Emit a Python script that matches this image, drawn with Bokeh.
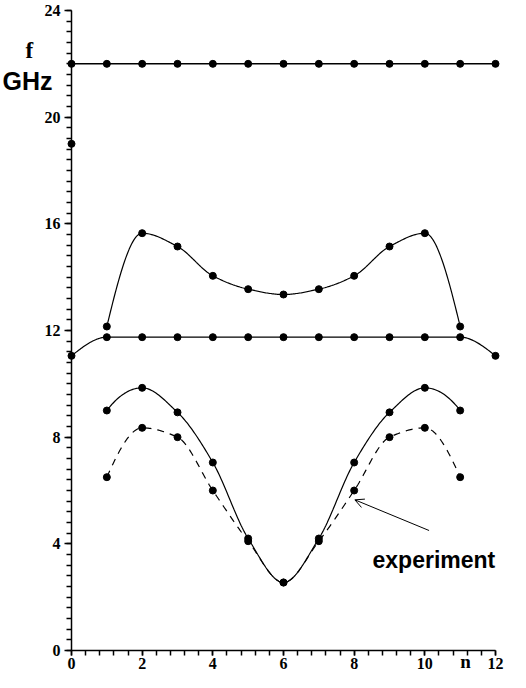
import numpy as np
from bokeh.plotting import figure
from bokeh.models import FixedTicker, Label, Arrow, OpenHead, Range1d
from bokeh.embed import file_html
from bokeh.resources import INLINE

# ---- data ----
n_top = [0, 1, 2, 3, 4, 5, 6, 7, 8, 9, 10, 11, 12]
f_top = [22, 22, 22, 22, 22, 22, 22, 22, 22, 22, 22, 22, 22]

n_single = [0]
f_single = [19.0]

n_band = [1, 2, 3, 4, 5, 6, 7, 8, 9, 10, 11]
f_upper = [12.15, 15.65, 15.15, 14.05, 13.55, 13.35, 13.55, 14.05, 15.15, 15.65, 12.15]

n_flat = [0, 1, 2, 3, 4, 5, 6, 7, 8, 9, 10, 11, 12]
f_flat = [11.05, 11.75, 11.75, 11.75, 11.75, 11.75, 11.75, 11.75, 11.75, 11.75, 11.75, 11.75, 11.05]

f_lower = [9.0, 9.85, 8.93, 7.05, 4.2, 2.55, 4.2, 7.05, 8.93, 9.85, 9.0]
f_exp = [6.5, 8.35, 8.0, 6.0, 4.1, 2.55, 4.1, 6.0, 8.0, 8.35, 6.5]

x_ticks = [0, 2, 4, 6, 8, 10, 12]
y_ticks = [0, 4, 8, 12, 16, 20, 24]


def pchip(x, y, num=30):
    """Monotone cubic (Fritsch-Carlson) curve through the data points."""
    x = np.asarray(x, float)
    y = np.asarray(y, float)
    h = np.diff(x)
    d = np.diff(y) / h
    m = np.zeros_like(y)
    for k in range(1, len(x) - 1):
        if d[k - 1] * d[k] <= 0:
            m[k] = 0.0
        else:
            w1 = 2 * h[k] + h[k - 1]
            w2 = h[k] + 2 * h[k - 1]
            m[k] = (w1 + w2) / (w1 / d[k - 1] + w2 / d[k])

    def end(h0, h1, d0, d1):
        s = ((2 * h0 + h1) * d0 - h0 * d1) / (h0 + h1)
        if np.sign(s) != np.sign(d0):
            s = 0.0
        elif np.sign(d0) != np.sign(d1) and abs(s) > abs(3 * d0):
            s = 3 * d0
        return s

    m[0] = end(h[0], h[1], d[0], d[1])
    m[-1] = end(h[-1], h[-2], d[-1], d[-2])
    xs, ys = [], []
    for k in range(len(x) - 1):
        t = np.linspace(0, 1, num, endpoint=(k == len(x) - 2))
        h00 = 2 * t**3 - 3 * t**2 + 1
        h10 = t**3 - 2 * t**2 + t
        h01 = -2 * t**3 + 3 * t**2
        h11 = t**3 - t**2
        xs.extend(x[k] + t * h[k])
        ys.extend(h00 * y[k] + h10 * h[k] * m[k] + h01 * y[k + 1] + h11 * h[k] * m[k + 1])
    return xs, ys


W, H = 510, 672
p = figure(
    width=W, height=H,
    x_range=Range1d(-71 / 35.333, 12 + 15 / 35.333),
    y_range=Range1d(-22 / 26.667, 24 + 10 / 26.667),
    output_backend="svg", toolbar_location=None,
    min_border=0,
)
p.grid.visible = False
p.outline_line_color = None
p.background_fill_color = "white"
p.border_fill_color = "white"

# axes, placed at the data origin
p.xaxis.fixed_location = 0
p.yaxis.fixed_location = 0
p.xaxis.bounds = (0, 12)
p.yaxis.bounds = (0, 24)
for ax in (p.xaxis[0], p.yaxis[0]):
    ax.axis_line_width = 1.5
    ax.axis_line_color = "black"
    ax.major_tick_line_color = "black"
    ax.minor_tick_line_color = "black"
    ax.major_tick_line_width = 1.5
    ax.minor_tick_line_width = 1.5
    ax.major_tick_in = 0
    ax.minor_tick_in = 0
    ax.major_label_text_font = "Liberation Serif"
    ax.major_label_text_font_style = "bold"
    ax.major_label_text_font_size = "16px"
    ax.major_label_text_color = "black"

p.xaxis.ticker = FixedTicker(ticks=x_ticks, minor_ticks=list(np.round(np.arange(0, 12.01, 0.4), 3)))
p.yaxis.ticker = FixedTicker(ticks=y_ticks, minor_ticks=list(np.round(np.arange(0, 24.01, 0.4), 3)))
p.xaxis.major_tick_out = 5
p.xaxis.minor_tick_out = 5
p.xaxis.major_label_standoff = 2
p.yaxis.major_tick_out = 7
p.yaxis.minor_tick_out = 5
p.yaxis.major_label_standoff = 4

lw = 1.2
# top line
p.line(*pchip(n_top, f_top), line_color="black", line_width=1.5)
p.scatter(n_top, f_top, size=7, color="black")
p.scatter(n_single, f_single, size=7, color="black")

# upper band
p.line(*pchip(n_band, f_upper), line_color="black", line_width=lw)
p.scatter(n_band, f_upper, size=7, color="black")

# flat band
p.line(*pchip(n_flat, f_flat), line_color="black", line_width=lw)
p.scatter(n_flat, f_flat, size=7, color="black")

# lower solid curve
p.line(*pchip(n_band, f_lower), line_color="black", line_width=lw)
p.scatter(n_band, f_lower, size=7, color="black")

# experiment (dashed)
p.line(*pchip(n_band, f_exp), line_color="black", line_width=lw, line_dash="7 6")
p.scatter(n_band, f_exp, size=7, color="black")

# annotations
p.add_layout(Arrow(end=OpenHead(size=9, line_width=1, line_color="black"),
                   x_start=10.12, y_start=4.5, x_end=8.02, y_end=5.65,
                   line_width=1, line_color="black"))
p.add_layout(Label(x=8.52, y=3.4, text="experiment", text_font="Liberation Sans",
                   text_font_style="bold", text_font_size="23px", text_color="black",
                   text_baseline="alphabetic"))
p.add_layout(Label(x=-1.95, y=21.35, text="GHz", text_font="Liberation Sans",
                   text_font_style="bold", text_font_size="25px", text_color="black",
                   text_baseline="alphabetic"))
p.add_layout(Label(x=-1.3, y=22.5, text="f", text_font="Liberation Serif",
                   text_font_style="bold", text_font_size="23px", text_color="black",
                   text_baseline="alphabetic"))
p.add_layout(Label(x=11.0, y=-0.42, text="n", text_font="Liberation Serif",
                   text_font_style="bold", text_font_size="19px", text_color="black",
                   text_baseline="alphabetic"))

open("out.html", "w").write(file_html(p, INLINE))
